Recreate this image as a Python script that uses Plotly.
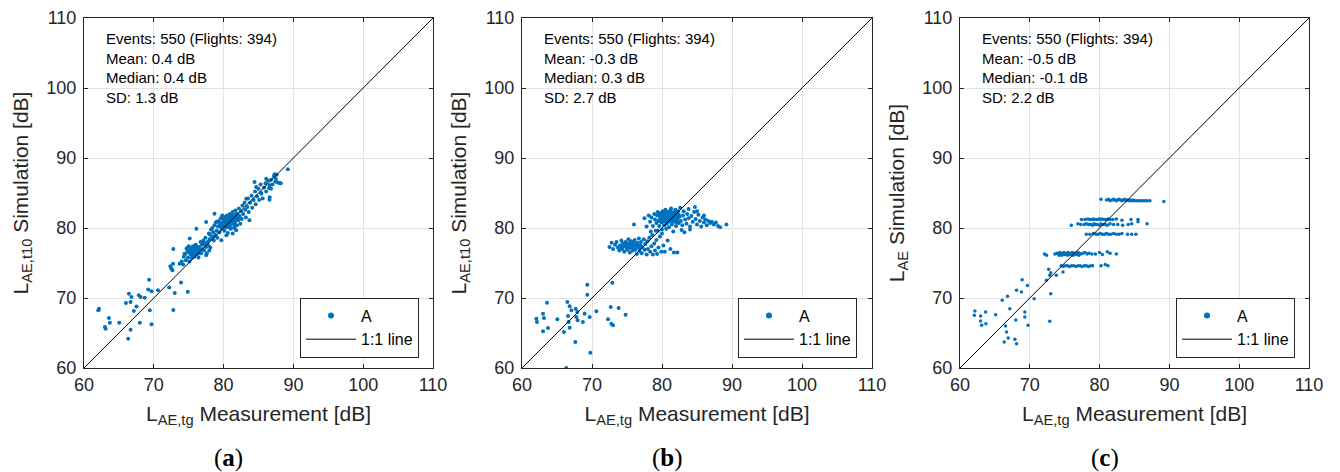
import plotly.graph_objects as go

# ---------------- data ----------------
# Panel (a): L_AE,t10 simulation vs L_AE,tg measurement
meas_a = [
    62.05, 62.15, 63.0, 63.1, 63.57, 63.7, 65.05, 66.0, 66.43, 66.8,
    66.67, 67.52, 67.14, 67.86, 68.1, 68.7, 69.33, 69.2, 69.67, 70.6,
    69.43, 69.67, 68.0, 66.67, 66.33, 72.2, 73.9, 73.0, 74.86, 72.8,
    72.5, 72.76, 72.38, 72.67, 72.8, 73.7, 74.4, 75.14,
    74.0, 74.2, 74.3, 74.5, 74.6, 74.8, 74.9, 75.0, 75.1, 75.2,
    75.3, 75.4, 75.5, 75.6, 75.7, 75.8, 75.9, 76.0, 76.1, 76.2,
    76.3, 76.4, 76.5, 76.6, 76.7, 76.8, 76.9, 75.2, 75.6, 76.0,
    76.4, 75.9, 76.1, 75.0, 74.7,
    77.0, 77.1, 77.2, 77.3, 77.4, 77.5, 77.6, 77.7, 77.8, 77.9,
    78.0, 78.1, 78.2, 78.3, 78.4, 78.5, 78.6, 78.7, 78.8, 78.9,
    79.0, 79.1, 79.2, 79.3, 79.4, 79.5, 79.6, 79.7, 79.8, 79.9,
    77.5, 78.7, 77.5, 77.95, 79.67, 77.2, 78.0, 79.0, 79.4, 78.5,
    80.0, 80.0, 80.1, 80.2, 80.3, 80.4, 80.5, 80.5, 80.6, 80.7,
    80.8, 80.9, 81.0, 81.0, 81.1, 81.2, 81.3, 81.4, 81.5, 81.5,
    81.6, 81.7, 81.8, 81.9, 82.0, 82.1, 82.2, 82.3, 82.4, 82.5,
    82.6, 82.7, 80.4, 81.3, 81.8, 81.57, 80.2, 80.7, 81.2, 81.8,
    80.6, 81.4, 82.2, 79.8, 80.9,
    82.8, 83.0, 83.1, 83.2, 83.4, 83.5, 83.6, 83.8, 84.0, 84.1,
    84.3, 84.5, 84.6, 84.8, 85.0, 85.1, 85.3, 85.4, 85.6, 85.8,
    86.0, 86.1, 86.3, 86.5, 86.6, 86.8, 87.0, 87.2, 87.4, 87.6,
    87.8, 88.2, 89.2, 88.0, 86.8, 87.3, 86.1, 84.43, 84.67, 85.4,
    86.57, 83.24, 83.7, 86.6, 87.5,
    80.1, 80.3, 80.5, 80.7, 80.9, 81.1, 81.3, 81.5, 81.7, 81.9,
    80.2, 80.4, 80.6, 80.8, 81.0, 81.2, 81.4, 81.6, 79.6, 79.9,
    75.3, 75.5, 75.7, 75.9, 76.1, 76.3, 76.5, 75.4, 75.8, 76.2,
]
sim_a = [
    68.24, 68.45, 65.86, 65.6, 67.14, 66.48, 66.48, 69.29, 70.62, 70.14,
    69.43, 68.8, 68.14, 70.38, 70.14, 70.05, 72.6, 71.2, 70.95, 71.1,
    68.24, 66.24, 66.48, 65.48, 64.19, 71.5, 72.2, 70.7, 70.9, 68.3,
    74.2, 74.9, 74.52, 73.95, 77.0, 74.9, 76.33, 78.5,
    75.2, 74.8, 75.9, 76.3, 75.4, 76.8, 75.8, 76.5, 75.2, 77.0,
    76.2, 75.7, 76.9, 77.4, 76.4, 75.9, 76.8, 77.6, 76.2, 77.1,
    76.6, 75.8, 77.3, 76.9, 78.0, 76.4, 77.6, 76.6, 76.1, 76.9,
    77.0, 77.3, 79.9, 77.4, 77.1,
    77.0, 78.2, 76.8, 77.6, 78.6, 77.3, 76.4, 78.0, 77.5, 79.2,
    78.4, 77.2, 79.8, 78.8, 80.0, 79.4, 78.2, 80.4, 79.0, 80.8,
    79.6, 78.6, 80.2, 81.0, 79.4, 80.6, 81.4, 79.9, 80.8, 80.2,
    80.86, 82.05, 76.1, 76.8, 78.24, 77.9, 79.1, 80.9, 80.3, 78.7,
    81.2, 80.4, 79.6, 81.6, 80.9, 80.1, 81.8, 80.6, 79.3, 81.3,
    80.4, 82.0, 81.0, 79.9, 81.6, 80.6, 82.3, 81.2, 80.0, 81.8,
    80.8, 82.5, 81.4, 80.4, 82.0, 81.1, 82.8, 81.7, 80.6, 82.4,
    81.3, 83.2, 78.95, 79.2, 79.67, 80.14, 80.9, 80.8, 81.4, 82.0,
    81.5, 80.7, 81.5, 81.8, 80.1,
    82.0, 83.6, 82.6, 81.5, 83.0, 84.2, 82.3, 83.6, 84.6, 82.9,
    84.0, 85.2, 83.4, 84.5, 85.6, 84.0, 86.2, 85.0, 84.2, 85.8,
    86.4, 85.2, 86.8, 85.7, 84.4, 86.9, 86.2, 87.4, 86.6, 87.6,
    86.5, 86.4, 88.4, 86.43, 85.6, 87.67, 87.05, 86.57, 85.86, 84.9,
    84.05, 84.19, 81.1, 86.1, 87.0,
    80.7, 81.3, 80.9, 81.0, 81.2, 80.8, 81.0, 81.4, 81.1, 81.7,
    80.2, 81.1, 80.3, 81.7, 80.5, 81.9, 81.5, 80.5, 80.5, 81.5,
    76.6, 77.1, 76.9, 76.5, 76.9, 77.3, 76.4, 77.0, 76.8, 76.5,
]

# Panel (b): L_AE,t10 simulation vs measurement
meas_b = [
    63.57, 62.05, 62.14, 63.0, 63.14, 63.71, 63.0, 65.05, 66.48, 66.81,
    67.05, 66.57, 66.67, 66.0, 66.81, 67.67, 67.9, 67.76, 67.95, 68.7,
    68.95, 69.67, 69.33, 69.33, 70.62, 67.62, 69.76, 66.33, 72.9, 72.67,
    73.8, 72.29, 72.76, 73.0, 74.8,
    72.5, 72.8, 73.0, 73.3, 73.5, 73.7, 73.9, 74.0, 74.2, 74.3,
    74.5, 74.6, 74.8, 74.9, 75.0, 75.1, 75.2, 75.3, 75.4, 75.5,
    75.6, 75.7, 75.8, 75.9, 76.0, 76.1, 76.2, 76.3, 76.4, 76.5,
    76.6, 76.7, 76.8, 76.9, 77.0, 77.1, 77.2, 77.4, 77.5, 77.6,
    77.8, 77.9, 78.0, 78.2, 78.3, 78.5, 78.6, 78.7, 78.9, 79.0,
    79.2, 79.3, 79.5, 79.7, 79.9, 80.2, 80.4, 80.8, 81.2, 81.7,
    82.2, 80.0, 79.4, 78.4, 74.7, 75.0, 75.3, 75.6, 75.8, 76.1,
    75.2, 74.4, 75.9, 76.4,
    76.0, 77.5, 77.8, 78.1, 78.3, 78.5, 78.7, 78.9, 79.0, 79.1,
    79.2, 79.3, 79.4, 79.5, 79.6, 79.7, 79.8, 79.9, 80.0, 80.0,
    80.1, 80.2, 80.3, 80.4, 80.5, 80.6, 80.7, 80.8, 80.9, 81.0,
    81.1, 81.2, 81.3, 81.4, 81.5, 81.6, 81.7, 81.8, 81.9, 82.0,
    82.1, 82.2, 82.3, 82.4, 82.5, 82.6, 82.7, 82.9, 83.0, 83.1,
    83.2, 83.3, 83.5, 83.6, 83.8, 84.0, 84.2, 84.4, 84.6, 84.7,
    84.8, 85.0, 85.2, 85.4, 85.6, 85.8, 86.0, 86.2, 86.4, 86.6,
    86.9, 87.1, 87.4, 87.7, 88.0, 88.3, 89.2, 85.0, 83.8, 86.0,
    84.0, 82.8, 81.6, 80.6, 80.3, 80.7, 81.0, 80.4, 81.3, 79.8,
    81.6, 80.9, 82.0, 79.5,
    79.6, 79.9, 80.2, 80.5, 80.8, 81.1, 81.4, 81.7, 82.0, 82.3,
    79.7, 80.0, 80.3, 80.6, 80.9, 81.2, 81.5, 81.8, 82.1, 82.4,
    74.1, 74.4, 74.7, 75.0, 75.3, 75.6, 75.9, 76.2, 76.5, 76.8,
]
sim_b = [
    69.33, 67.05, 66.57, 67.76, 67.14, 65.71, 65.24, 66.95, 69.43, 68.81,
    68.24, 67.43, 66.57, 65.14, 65.76, 68.48, 68.0, 67.29, 66.81, 66.57,
    67.76, 67.29, 71.9, 70.48, 68.1, 63.71, 62.19, 60.0, 72.19, 68.71,
    68.57, 66.95, 66.33, 66.1, 67.62,
    77.3, 77.9, 77.0, 77.6, 78.0, 77.2, 76.8, 77.5, 78.2, 77.0,
    77.7, 76.6, 78.0, 77.3, 76.9, 77.8, 78.4, 77.1, 76.5, 77.6,
    78.1, 77.3, 76.8, 77.9, 77.4, 78.3, 76.9, 77.6, 76.3, 77.9,
    77.2, 78.5, 76.7, 77.5, 78.0, 76.4, 77.3, 78.4, 76.9, 77.7,
    76.2, 78.1, 77.0, 78.6, 76.6, 77.4, 79.0, 76.2, 77.8, 76.8,
    78.3, 76.3, 77.2, 78.8, 76.6, 77.5, 76.6, 78.2, 77.0, 76.5,
    76.5, 79.2, 79.6, 79.5, 77.4, 77.6, 77.8, 77.5, 77.2, 77.7,
    77.3, 77.3, 77.6, 77.4,
    80.5, 81.4, 80.2, 81.8, 80.9, 81.5, 80.3, 82.0, 81.2, 79.6,
    80.7, 81.8, 82.3, 81.0, 80.3, 81.6, 82.1, 80.8, 81.4, 79.8,
    82.4, 81.0, 80.4, 81.8, 82.6, 81.2, 80.6, 82.0, 81.5, 80.1,
    82.3, 81.0, 82.8, 80.5, 81.7, 82.2, 80.9, 81.4, 82.6, 80.3,
    81.9, 81.2, 82.4, 80.7, 81.6, 82.9, 81.0, 80.4, 81.8, 82.4,
    79.4, 81.2, 80.6, 82.0, 81.4, 80.2, 81.7, 80.9, 82.3, 83.0,
    81.3, 80.5, 81.9, 81.0, 80.2, 81.5, 80.8, 81.2, 80.4, 81.0,
    80.7, 80.9, 80.5, 80.8, 80.3, 80.1, 80.5, 82.4, 82.7, 81.8,
    79.8, 79.7, 79.5, 79.9, 81.5, 81.9, 81.3, 80.9, 81.6, 81.3,
    81.0, 82.2, 81.6, 81.9,
    81.1, 81.7, 82.1, 81.5, 82.3, 81.8, 82.0, 81.2, 82.2, 81.5,
    82.0, 80.9, 81.9, 82.2, 80.9, 82.5, 81.1, 82.1, 80.8, 81.9,
    77.1, 77.8, 77.6, 77.2, 77.5, 77.9, 77.1, 77.5, 77.7, 77.1,
]

# Panel (c): L_AE simulation vs measurement (banded)
meas_c = [
    62.14, 62.05, 62.95, 62.95, 63.1, 63.67, 63.71, 65.1, 66.05, 66.81,
    67.14, 66.52, 66.67, 66.9, 66.33, 67.86, 68.1, 68.0, 68.1, 68.8,
    68.9, 69.67, 69.29, 69.29, 69.76, 70.62, 72.86, 73.0, 72.38, 72.86,
    72.7, 73.8, 74.76, 73.0,
    80.2, 81.0, 81.3, 81.5, 81.8, 82.0, 82.2, 82.4, 82.6, 82.8,
    83.0, 83.2, 83.4, 83.6, 83.8, 84.0, 84.2, 84.4, 84.6, 84.8,
    85.0, 85.3, 85.6, 85.9, 86.2, 86.5, 86.8, 87.2, 89.2,
    77.4, 77.9, 78.3, 78.6, 78.9, 79.1, 79.3, 79.6, 79.9, 80.1,
    80.3, 80.6, 80.9, 81.2, 81.5, 81.9, 82.4, 83.2, 84.5, 85.5,
    75.95, 76.9, 77.3, 77.8, 78.1, 78.4, 78.7, 79.0, 79.2, 79.4,
    79.7, 80.0, 80.2, 80.5, 80.8, 81.1, 81.5, 82.0, 82.6, 83.3,
    84.1, 84.6, 85.5, 86.8,
    78.1, 78.6, 79.1, 79.5, 79.8, 80.1, 80.4, 80.7, 81.0, 81.3,
    81.6, 82.0, 82.4, 82.8, 83.2, 84.0, 84.6, 85.2,
    72.1, 72.4, 73.6, 73.9, 74.1, 74.3, 74.5, 74.7, 74.9, 75.1,
    75.3, 75.5, 75.7, 75.9, 76.1, 76.3, 76.5, 76.7, 76.9, 77.1,
    77.3, 77.6, 77.9, 78.2, 78.5, 78.9, 79.4, 80.0, 80.4, 81.1,
    81.5, 82.4, 74.2, 74.6, 75.0, 75.4, 75.8, 76.2, 76.6, 77.0,
    74.5, 74.8, 75.1, 75.4, 75.7, 76.0, 76.3, 76.6, 76.9, 77.2,
    77.5, 77.8, 78.1, 78.4, 78.7, 79.0, 80.2, 80.8, 81.2,
]
sim_c = [
    68.14, 67.52, 67.43, 66.71, 66.1, 68.0, 66.33, 67.62, 69.67, 70.24,
    68.48, 66.0, 65.14, 64.29, 63.71, 64.1, 63.48, 66.86, 71.1, 70.86,
    72.6, 71.8, 68.0, 67.29, 66.1, 69.9, 66.67, 70.62, 72.52, 73.24,
    74.1, 73.24, 73.71, 73.6,
    84.1, 84.0, 84.1, 83.9, 84.0, 84.1, 84.0, 83.9, 84.0, 84.1,
    84.0, 83.9, 84.0, 84.1, 83.9, 84.0, 83.9, 84.0, 83.9, 84.0,
    83.9, 83.9, 83.9, 83.9, 83.9, 83.9, 83.9, 83.9, 83.8,
    81.2, 81.2, 81.3, 81.2, 81.2, 81.3, 81.2, 81.2, 81.3, 81.2,
    81.3, 81.2, 81.2, 81.3, 81.2, 81.2, 81.3, 81.1, 81.2, 81.2,
    80.4, 80.6, 80.5, 80.5, 80.6, 80.5, 80.5, 80.4, 80.6, 80.5,
    80.5, 80.4, 80.6, 80.5, 80.5, 80.4, 80.6, 80.5, 80.5, 80.4,
    80.5, 80.6, 80.9, 80.6,
    79.1, 79.1, 79.2, 79.1, 79.1, 79.2, 79.1, 79.1, 79.2, 79.1,
    79.1, 79.2, 79.1, 79.1, 79.2, 79.1, 79.1, 79.1,
    76.3, 76.1, 76.3, 76.4, 76.3, 76.5, 76.3, 76.4, 76.5, 76.3,
    76.4, 76.5, 76.3, 76.4, 76.5, 76.3, 76.4, 76.3, 76.5, 76.4,
    76.3, 76.4, 76.5, 76.3, 76.4, 76.3, 76.3, 76.5, 76.2, 76.6,
    76.4, 76.3, 76.1, 76.1, 76.2, 76.1, 76.2, 76.1, 76.2, 76.1,
    74.6, 74.5, 74.6, 74.6, 74.5, 74.6, 74.6, 74.5, 74.6, 74.6,
    74.5, 74.6, 74.6, 74.5, 74.6, 74.6, 74.6, 74.8, 74.6,
]

one_to_one = [60, 110]
tick_vals = [60, 70, 80, 90, 100, 110]

stats_text = [
    ["Events: 550 (Flights: 394)", "Mean: 0.4 dB", "Median: 0.4 dB", "SD: 1.3 dB"],
    ["Events: 550 (Flights: 394)", "Mean: -0.3 dB", "Median: 0.3 dB", "SD: 2.7 dB"],
    ["Events: 550 (Flights: 394)", "Mean: -0.5 dB", "Median: -0.1 dB", "SD: 2.2 dB"],
]
y_titles = [
    "L<sub>AE,t10</sub> Simulation [dB]",
    "L<sub>AE,t10</sub> Simulation [dB]",
    "L<sub>AE</sub> Simulation [dB]",
]
x_title = "L<sub>AE,tg</sub> Measurement [dB]"
panel_labels = ["(<b>a</b>)", "(<b>b</b>)", "(<b>c</b>)"]
series_name = "A"
line_name = "1:1 line"

# ---------------- layout geometry ----------------
W, H = 1340, 472
x_domains_px = [(84, 433), (522, 872), (960, 1309)]
y_domain_px = (18, 368)
legend_right_px = [419, 857, 1295]
legend_mid_px = 327.5
label_cx_px = [228, 667, 1105]

BLUE = "#0072BD"
AX = "#262626"
FONT = "Liberation Sans"

fig = go.Figure()
data = [(meas_a, sim_a), (meas_b, sim_b), (meas_c, sim_c)]
msizes = [4, 4, 3.5]
legend_ids = ["legend", "legend2", "legend3"]

for i, (mx, sy) in enumerate(data):
    xa = "x" if i == 0 else f"x{i+1}"
    ya = "y" if i == 0 else f"y{i+1}"
    fig.add_trace(go.Scatter(
        x=mx, y=sy, mode="markers", name=series_name, showlegend=False,
        marker=dict(color=BLUE, size=msizes[i], line=dict(width=0)),
        xaxis=xa, yaxis=ya,
    ))
    # legend entry for the series (larger symbol, like the MATLAB legend)
    fig.add_trace(go.Scatter(
        x=[None], y=[None], mode="markers", name=series_name,
        marker=dict(color=BLUE, size=6, line=dict(width=0)),
        xaxis=xa, yaxis=ya, legend=legend_ids[i],
    ))
    fig.add_trace(go.Scatter(
        x=one_to_one, y=one_to_one, mode="lines", name=line_name,
        line=dict(color="black", width=1),
        xaxis=xa, yaxis=ya, legend=legend_ids[i],
    ))

layout = dict(
    width=W, height=H,
    margin=dict(l=0, r=0, t=0, b=0, autoexpand=False),
    paper_bgcolor="white", plot_bgcolor="white",
    font=dict(family=FONT, color=AX),
    showlegend=True,
)

y0 = (H - y_domain_px[1]) / H
y1 = (H - y_domain_px[0]) / H
annotations = []
for i in range(3):
    sfx = "" if i == 0 else str(i + 1)
    x0 = x_domains_px[i][0] / W
    x1 = x_domains_px[i][1] / W
    common = dict(
        range=[60, 110], tickvals=tick_vals, showgrid=True,
        gridcolor="#e3e3e3", gridwidth=1, showline=True, linecolor=AX,
        linewidth=1, mirror="ticks", ticks="inside", ticklen=4,
        tickcolor=AX, tickfont=dict(size=18, color=AX, family=FONT),
        zeroline=False, fixedrange=True, automargin=False,
    )
    layout["xaxis" + sfx] = dict(
        common, domain=[x0, x1], anchor="y" + sfx,
        title=dict(text=x_title, font=dict(size=21, color=AX, family=FONT), standoff=12),
    )
    layout["yaxis" + sfx] = dict(
        common, domain=[y0, y1], anchor="x" + sfx, ticklabelstandoff=3,
        title=dict(text=y_titles[i], font=dict(size=21, color=AX, family=FONT), standoff=12),
    )
    layout[legend_ids[i]] = dict(
        x=legend_right_px[i] / W, y=(H - legend_mid_px) / H,
        xanchor="right", yanchor="middle",
        bordercolor=AX, borderwidth=1, bgcolor="white",
        font=dict(size=16, color="black", family=FONT),
        itemwidth=50, tracegroupgap=0,
    )
    annotations.append(dict(
        text="<br>".join(stats_text[i]), xref="x" + sfx, yref="y" + sfx,
        x=62.8, y=108.6, xanchor="left", yanchor="top", align="left",
        showarrow=False, font=dict(size=15, color="black", family=FONT),
    ))
    annotations.append(dict(
        text=panel_labels[i], xref="paper", yref="paper",
        x=label_cx_px[i] / W, y=(H - 458) / H, xanchor="center", yanchor="middle",
        showarrow=False, font=dict(size=25, color="black", family="Liberation Serif"),
    ))

layout["annotations"] = annotations
fig.update_layout(**layout)
fig.write_html(
    "out.html",
    config={"displayModeBar": False},
    post_script="document.body.style.margin='0px';document.body.style.overflow='hidden';",
)
